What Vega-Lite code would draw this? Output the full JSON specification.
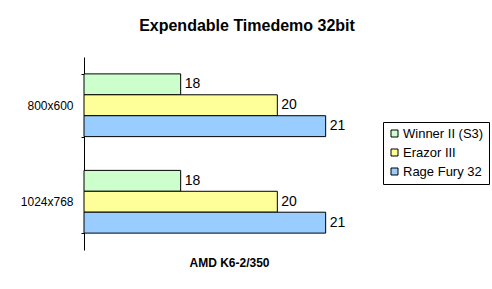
{
  "$schema": "https://vega.github.io/schema/vega-lite/v6.json",
  "autosize": {"type": "none"},
  "width": 290,
  "height": 193,
  "padding": {"left": 84, "top": 57, "right": 118, "bottom": 39},
  "background": "white",
  "title": {
    "text": "Expendable Timedemo 32bit",
    "font": "Liberation Sans",
    "fontSize": 16,
    "fontWeight": "bold",
    "color": "black",
    "anchor": "middle",
    "baseline": "alphabetic",
    "offset": 4,
    "dx": 18
  },
  "config": {
    "view": {"stroke": null},
    "font": "Liberation Sans"
  },
  "data": {
    "values": [
      {"res": "800x600", "card": "Winner II (S3)", "fps": 18},
      {"res": "800x600", "card": "Erazor III", "fps": 20},
      {"res": "800x600", "card": "Rage Fury 32", "fps": 21},
      {"res": "1024x768", "card": "Winner II (S3)", "fps": 18},
      {"res": "1024x768", "card": "Erazor III", "fps": 20},
      {"res": "1024x768", "card": "Rage Fury 32", "fps": 21}
    ]
  },
  "encoding": {
    "y": {
      "field": "res",
      "type": "nominal",
      "sort": ["800x600", "1024x768"],
      "scale": {"paddingInner": 0.35, "paddingOuter": 0.175},
      "axis": {
        "title": null,
        "domainColor": "black",
        "tickColor": "black",
        "tickSize": 3,
        "tickBand": "extent",
        "labelFontSize": 12,
        "labelColor": "black",
        "labelPadding": 8,
        "grid": false
      }
    },
    "yOffset": {
      "field": "card",
      "type": "nominal",
      "sort": ["Winner II (S3)", "Erazor III", "Rage Fury 32"],
      "scale": {"paddingInner": 0, "paddingOuter": 0}
    },
    "x": {
      "field": "fps",
      "type": "quantitative",
      "scale": {"domain": [16, 22], "zero": false, "nice": false},
      "axis": {
        "title": "AMD K6-2/350",
        "titleFontSize": 12,
        "titleFontWeight": "bold",
        "titleColor": "black",
        "titlePadding": 7,
        "labels": false,
        "ticks": false,
        "domain": false,
        "grid": false
      }
    }
  },
  "layer": [
    {
      "mark": {"type": "bar", "stroke": "black", "strokeWidth": 1, "opacity": 1},
      "encoding": {
        "x2": {"datum": 16},
        "color": {
          "field": "card",
          "type": "nominal",
          "sort": ["Winner II (S3)", "Erazor III", "Rage Fury 32"],
          "scale": {
            "domain": ["Winner II (S3)", "Erazor III", "Rage Fury 32"],
            "range": ["#CCFFCC", "#FFFF99", "#99CCFF"]
          },
          "legend": {
            "title": null,
            "orient": "none",
            "legendX": 299,
            "legendY": 65,
            "strokeColor": "black",
            "padding": 5,
            "symbolType": "square",
            "symbolSize": 49,
            "symbolStrokeColor": "black",
            "symbolStrokeWidth": 1,
            "symbolOpacity": 1,
            "labelFontSize": 13,
            "labelColor": "black",
            "labelOffset": 2,
            "rowPadding": 5,
            "fillColor": "white"
          }
        }
      }
    },
    {
      "mark": {"type": "text", "align": "left", "baseline": "middle", "dx": 4, "fontSize": 14, "color": "black"},
      "encoding": {
        "text": {"field": "fps", "type": "quantitative"}
      }
    }
  ]
}
